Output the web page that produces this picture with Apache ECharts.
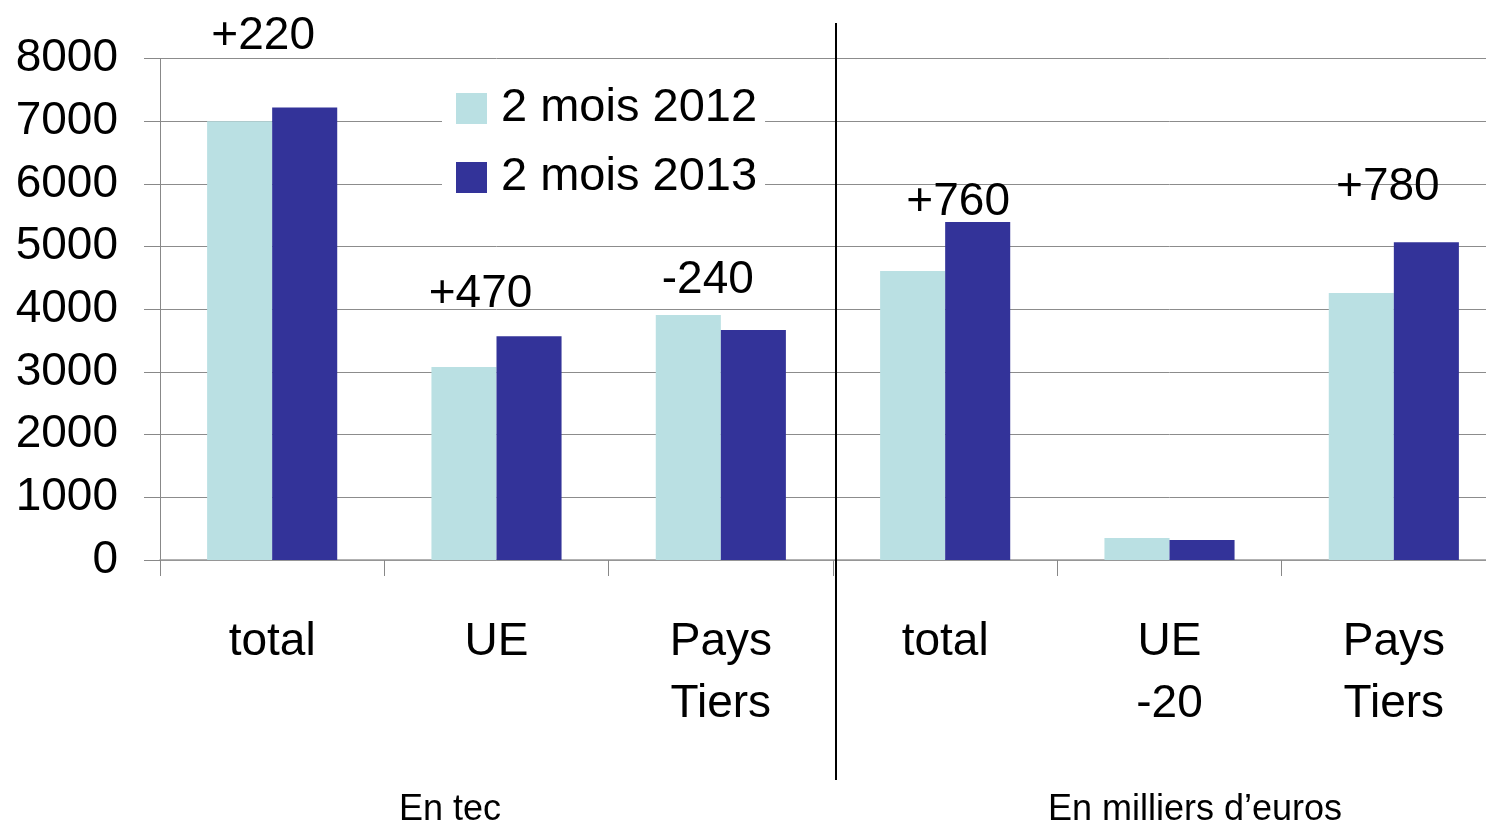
<!DOCTYPE html>
<html>
<head>
<meta charset="utf-8">
<script src="https://cdn.jsdelivr.net/npm/echarts@6/dist/echarts.min.js"></script>
<style>
  html, body { margin: 0; padding: 0; background: #fff; overflow: hidden; }
  /* a bit wider than the window: last category is cut at the right edge, like the original */
  #main { width: 1506px; height: 825px; }
</style>
</head>
<body>
<div id="main"></div>
<script>
// categories: 3 in tonnes, 3 in thousands of euros
var categories = ['total', 'UE', 'Pays\nTiers', 'total', 'UE\n-20', 'Pays\nTiers'];
var legend_data = ['2 mois 2012', '2 mois 2013'];
var Series2012 = [7000, 3080, 3910, 4610, 350, 4260];
var Series2013 = [7220, 3570, 3670, 5390, 320, 5070];

// variation labels above the bars
var diffText = ['+220', '+470', '-240', '+760', '+780'];
var diffCat = [0, 1, 2, 3, 5];
var diffY = [8400, 4290, 4510, 5760, 6000];
var diffShift = [-9, -16, -13, 13, -6];

var yTicks = [0, 8000, 1000];

var font = 'Liberation Sans, Arial, sans-serif';
var chartDom = document.getElementById('main');
var myChart = echarts.init(chartDom);

var diffData = diffText.map(function (t, i) {
  return {
    value: [diffCat[i], diffY[i]],
    label: { formatter: t, offset: [diffShift[i], 3] }
  };
});

var option = {
  animation: false,
  backgroundColor: '#fff',
  grid: { left: 160, top: 58.5, bottom: 265, right: 0 },
  legend: {
    data: legend_data,
    orient: 'vertical',
    left: 442,
    top: 75,
    padding: [10, 8, 10, 14],
    backgroundColor: '#fff',
    itemWidth: 31,
    itemHeight: 31,
    itemGap: 22,
    icon: 'rect',
    textStyle: { fontSize: 47, color: '#000', fontFamily: font, padding: [0, 0, 0, 9] }
  },
  xAxis: {
    type: 'category',
    data: categories,
    axisLine: { lineStyle: { color: '#999', width: 1.5 } },
    axisTick: { show: true, length: 16, lineStyle: { color: '#888' } },
    axisLabel: {
      interval: 0,
      margin: 51,
      fontSize: 46,
      lineHeight: 62,
      color: '#000',
      fontFamily: font
    }
  },
  yAxis: {
    type: 'value',
    min: yTicks[0],
    max: yTicks[1],
    interval: yTicks[2],
    axisLine: { show: true, lineStyle: { color: '#888' } },
    axisTick: { show: true, length: 16, lineStyle: { color: '#888' } },
    splitLine: { lineStyle: { color: '#8c8c8c', width: 1 } },
    axisLabel: {
      margin: 42, fontSize: 46, color: '#000', fontFamily: font,
      padding: [8, 0, 0, 0],
      formatter: function (v) { return String(v); }
    }
  },
  series: [
    {
      name: legend_data[0],
      type: 'bar',
      barGap: '0%',
      barCategoryGap: '42%',
      itemStyle: { color: '#bae0e3' },
      data: Series2012
    },
    {
      name: legend_data[1],
      type: 'bar',
      itemStyle: { color: '#333399' },
      data: Series2013
    },
    {
      type: 'scatter',
      symbolSize: 0,
      clip: false,
      silent: true,
      itemStyle: { opacity: 1 },
      label: {
        show: true,
        position: 'inside',
        fontSize: 46,
        color: '#000',
        fontFamily: font
      },
      data: diffData
    }
  ],
  graphic: [
    {
      type: 'line',
      shape: { x1: 836, y1: 23, x2: 836, y2: 780 },
      style: { stroke: '#000', lineWidth: 2 },
      z: 100
    },
    {
      type: 'text',
      x: 450, y: 810,
      style: { text: 'En tec', fontSize: 36, fill: '#000', fontFamily: font, align: 'center', verticalAlign: 'middle' }
    },
    {
      type: 'text',
      x: 1195, y: 810,
      style: { text: 'En milliers d’euros', fontSize: 36, fill: '#000', fontFamily: font, align: 'center', verticalAlign: 'middle' }
    }
  ]
};
option && myChart.setOption(option);
</script>
</body>
</html>
